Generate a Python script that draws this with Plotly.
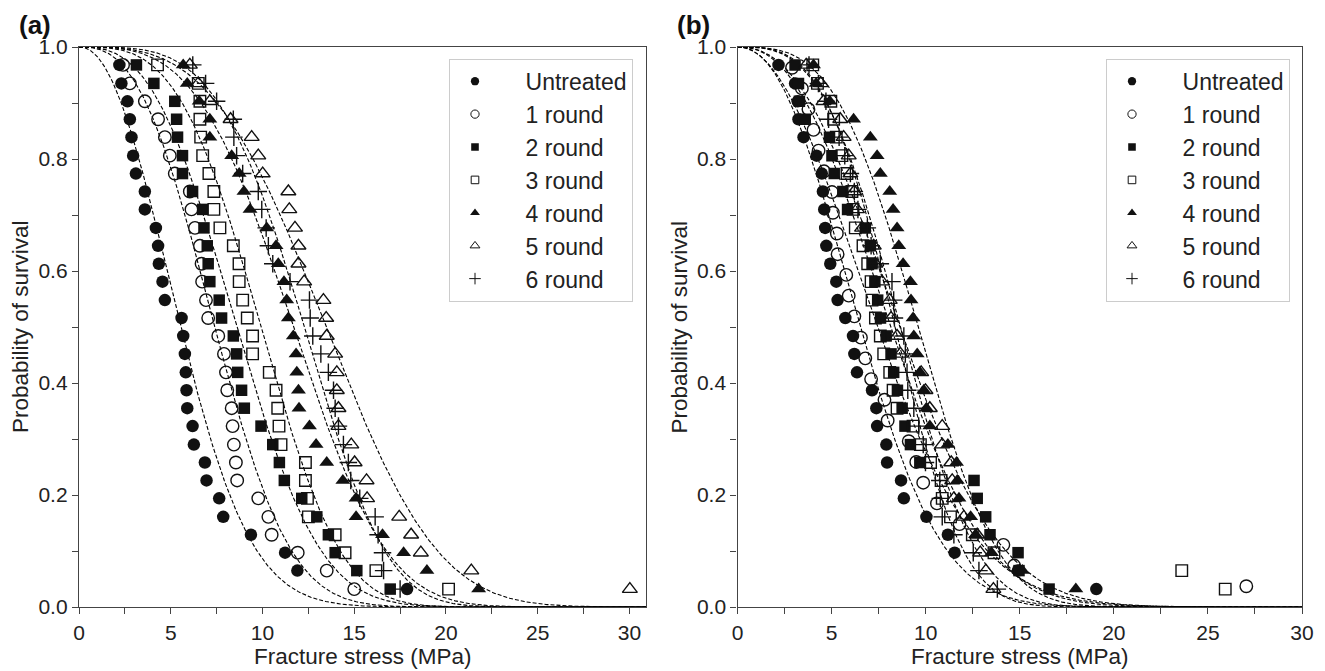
import numpy as np
import plotly.graph_objects as go

# survival probability ranks (n=30 and n=26 specimens)
survival_30 = [0.968, 0.935, 0.903, 0.871, 0.839, 0.806, 0.774, 0.742, 0.710, 0.677,
               0.645, 0.613, 0.581, 0.548, 0.516, 0.484, 0.452, 0.419, 0.387, 0.355,
               0.323, 0.290, 0.258, 0.226, 0.194, 0.161, 0.129, 0.097, 0.065, 0.032]
survival_26 = [0.963, 0.926, 0.889, 0.852, 0.815, 0.778, 0.741, 0.704, 0.667, 0.630,
               0.593, 0.556, 0.519, 0.481, 0.444, 0.407, 0.370, 0.333, 0.296, 0.259,
               0.222, 0.185, 0.148, 0.111, 0.074, 0.037]

series_names = ["Untreated", "1 round", "2 round", "3 round", "4 round", "5 round", "6 round"]

# panel (a): fracture stress (MPa)
untreated_a = [2.20, 2.31, 2.64, 2.77, 2.86, 2.95, 3.10, 3.59, 3.59, 4.19, 4.31, 4.35, 4.55, 4.68, 5.59,
               5.68, 5.77, 5.82, 5.86, 5.90, 6.19, 6.26, 6.86, 6.95, 7.64, 7.86, 9.37, 11.23, 11.90, 17.88]
round1_a = [2.40, 2.77, 3.59, 4.31, 4.68, 4.95, 5.22, 6.04, 6.13, 6.32, 6.59, 6.68, 6.71, 6.92, 7.04,
            7.59, 7.90, 8.01, 8.08, 8.32, 8.37, 8.44, 8.55, 8.62, 9.77, 10.32, 10.50, 11.92, 13.50, 15.00]
round2_a = [3.13, 4.08, 5.22, 5.32, 5.37, 5.64, 5.64, 6.19, 6.74, 6.81, 6.99, 7.04, 7.13, 7.64, 7.77,
            8.41, 8.59, 8.65, 8.86, 9.01, 9.92, 10.56, 10.92, 11.19, 12.14, 12.96, 13.59, 13.96, 15.14, 16.96]
round3_a = [4.28, 6.50, 6.59, 6.59, 6.63, 6.74, 7.08, 7.35, 7.35, 7.68, 8.41, 8.72, 8.73, 8.92, 9.17,
            9.46, 9.46, 10.37, 10.74, 10.83, 10.90, 11.01, 12.34, 12.34, 12.45, 12.50, 13.96, 14.50, 16.18, 20.14]
round4_a = [5.68, 5.90, 6.55, 7.13, 7.13, 8.32, 8.73, 8.99, 9.32, 10.23, 10.74, 10.86, 11.17, 11.32, 11.41,
            11.68, 11.83, 11.87, 11.96, 11.99, 12.56, 12.92, 13.50, 14.38, 15.10, 15.10, 16.54, 17.69, 18.96, 21.78]
round5_a = [6.04, 6.50, 7.13, 8.26, 9.41, 9.77, 10.01, 11.41, 11.46, 11.77, 11.96, 11.96, 12.27, 13.32, 13.47,
            13.50, 13.96, 14.05, 14.05, 14.14, 14.14, 14.84, 15.02, 15.67, 15.70, 17.45, 18.10, 18.63, 21.38, 30.02]
round6_a = [6.20, 6.90, 7.50, 8.41, 8.44, 8.59, 8.92, 9.77, 9.96, 10.20, 10.32, 10.56, 11.50, 12.56, 12.60,
            12.74, 13.18, 13.59, 13.87, 13.96, 14.14, 14.41, 14.68, 14.81, 15.30, 16.14, 16.30, 16.54, 16.60, 17.50]

# panel (b)
untreated_b = [2.18, 3.06, 3.20, 3.24, 3.51, 4.20, 4.48, 4.54, 4.61, 4.66, 4.72, 4.93, 5.25, 5.32, 5.73,
               6.14, 6.21, 6.35, 7.15, 7.38, 7.42, 7.91, 7.95, 8.69, 8.84, 10.04, 11.18, 11.54, 14.90, 19.07]
round1_b = [2.90, 3.42, 3.77, 4.04, 4.31, 4.60, 5.02, 5.07, 5.28, 5.32, 5.78, 5.91, 6.21,
            6.56, 6.79, 7.10, 7.81, 7.98, 9.10, 9.50, 9.87, 10.60, 11.80, 14.13, 14.70, 27.04]
round2_b = [3.06, 3.24, 3.29, 3.60, 4.89, 5.02, 5.14, 5.60, 5.85, 6.79, 7.06, 7.15, 7.30, 7.45, 7.60,
            7.90, 8.16, 8.30, 8.50, 8.75, 8.90, 9.19, 9.69, 12.57, 12.74, 13.19, 13.42, 14.91, 14.96, 16.56]
round3_b = [4.00, 4.25, 4.96, 5.11, 5.25, 5.55, 5.82, 6.08, 6.14, 6.26, 6.67, 6.92, 7.10, 7.15, 7.33,
            7.59, 7.77, 8.09, 8.27, 8.48, 9.33, 9.72, 10.26, 10.82, 10.88, 11.32, 12.48, 13.63, 23.61, 25.92]
round4_b = [4.04, 4.18, 4.90, 6.17, 7.06, 7.42, 7.59, 8.09, 8.27, 8.48, 8.57, 8.80, 9.19, 9.22, 9.33,
            9.37, 9.55, 9.69, 9.90, 10.04, 10.22, 11.18, 11.64, 11.68, 11.77, 12.39, 12.65, 13.50, 15.14, 17.98]
round5_b = [3.65, 4.43, 4.57, 5.46, 5.64, 5.91, 6.00, 6.20, 6.35, 6.62, 7.24, 7.33, 7.68, 8.09, 8.16,
            8.48, 8.66, 9.76, 9.99, 10.22, 10.88, 10.88, 11.36, 11.41, 11.50, 12.03, 12.74, 12.90, 13.20, 13.60]
round6_b = [3.80, 4.30, 4.70, 4.84, 5.40, 5.70, 6.00, 6.21, 6.40, 6.90, 7.10, 7.59, 8.21, 8.30, 8.34,
            8.84, 8.92, 9.01, 9.05, 9.37, 9.63, 9.87, 9.99, 10.75, 10.78, 10.88, 11.50, 12.53, 12.83, 13.81]

FONT = "Liberation Sans, Arial, Helvetica, sans-serif"
INK = "#111111"
FRAME = "#444444"
TEXT = "#222222"

# marker style per series: (symbol, size)
STYLES = [
    ("circle", 12.5),
    ("circle-open", 12.5),
    ("square", 11.5),
    ("square-open", 11.5),
    ("triangle-up", 13),
    ("triangle-up-open", 13),
    ("cross-thin-open", 12.5),
]


def weibull_fit(stress, prob):
    """Least squares on the Weibull plot: ln(-ln P) = m ln(x) - m ln(x0)."""
    lx = np.log(np.asarray(stress, dtype=float))
    ly = np.log(-np.log(np.asarray(prob, dtype=float)))
    m, c = np.polyfit(lx, ly, 1)
    return m, np.exp(-c / m)


panels = [
    ("x", "y", 30.9, [untreated_a, round1_a, round2_a, round3_a, round4_a, round5_a, round6_a],
     [survival_30] * 7, "legend"),
    ("x2", "y2", 30.0, [untreated_b, round1_b, round2_b, round3_b, round4_b, round5_b, round6_b],
     [survival_30, survival_26] + [survival_30] * 5, "legend2"),
]

fig = go.Figure()

for xref, yref, xmax, stresses, probs, leg in panels:
    # fitted Weibull curves underneath the points
    xs = np.linspace(0.001, xmax, 500)
    for stress, prob in zip(stresses, probs):
        m, x0 = weibull_fit(stress, prob)
        fig.add_trace(go.Scatter(
            x=xs, y=np.exp(-(xs / x0) ** m), mode="lines", xaxis=xref, yaxis=yref,
            line=dict(color="#000000", width=1.1, dash="4px,2px"),
            showlegend=False, hoverinfo="skip"))
    for name, stress, prob, (sym, size) in zip(series_names, stresses, probs, STYLES):
        fig.add_trace(go.Scatter(
            x=stress, y=prob, mode="markers", name=name, xaxis=xref, yaxis=yref,
            marker=dict(symbol=sym, size=size, color=INK,
                        line=dict(color=INK, width=1.4 if "open" in sym else 0)),
            showlegend=False))
    # small legend symbols, text pushed right with non-breaking spaces
    for name, (sym, size) in zip(series_names, STYLES):
        fig.add_trace(go.Scatter(
            x=[None], y=[None], mode="markers", name="\u00a0" * 4 + name, xaxis=xref, yaxis=yref,
            marker=dict(symbol=sym, size=size * 0.66, color=INK,
                        line=dict(color=INK, width=1 if "open" in sym else 0)),
            legend=leg, showlegend=True))

tickfont = dict(family=FONT, size=21, color=TEXT)


def xaxis(domain, rng, anchor):
    return dict(domain=domain, range=rng, anchor=anchor, showgrid=False, zeroline=False,
                automargin=False, showline=True, mirror=True, linecolor=FRAME, linewidth=1.3,
                ticks="outside", ticklen=6, tickwidth=1.2, tickcolor=FRAME, dtick=5, tick0=0,
                ticklabelstandoff=1,
                minor=dict(dtick=2.5, ticks="outside", ticklen=6, tickcolor=FRAME, tickwidth=1.2),
                tickfont=tickfont)


def yaxis(anchor):
    return dict(domain=[0, 1], range=[0, 1], anchor=anchor, showgrid=False, zeroline=False,
                automargin=False, showline=True, mirror=True, linecolor=FRAME, linewidth=1.3,
                ticks="outside", ticklen=6, tickwidth=1.2, tickcolor=FRAME, dtick=0.2, tick0=0,
                tickformat=".1f",
                minor=dict(dtick=0.1, ticks="outside", ticklen=6, tickcolor=FRAME, tickwidth=1.2),
                tickfont=tickfont)


legend_style = dict(font=dict(family=FONT, size=23, color=TEXT), bgcolor="white",
                    bordercolor="#cccccc", borderwidth=1, xanchor="right", yanchor="top",
                    y=0.979, itemwidth=40, tracegroupgap=0)

# the page body adds an 8px offset, so the figure is 8px smaller than the window.
# plot area on screen: left 79, right 1302, top 47, bottom 607
W, H = 1317, 663
ML, MR, MT, MB = 71, 23, 39, 64
PW = W - ML - MR


def px_to_paper(px):
    return (px - 79) / PW


xa_dom = [0, px_to_paper(646)]
xb_dom = [px_to_paper(737.5), 1]

title_font = dict(family=FONT, size=22.5, color=TEXT)
annotations = []
for dom in (xa_dom, xb_dom):
    annotations.append(dict(text="Fracture stress (MPa)", x=(dom[0] + dom[1]) / 2, y=-0.089,
                            xref="paper", yref="paper", xanchor="center", yanchor="middle",
                            showarrow=False, font=title_font))
    annotations.append(dict(text="Probability of survival", x=dom[0] - 59 / PW, y=0.5,
                            xref="paper", yref="paper", xanchor="center", yanchor="middle",
                            textangle=-90, showarrow=False, font=title_font))
for label, dom in (("(a)", xa_dom), ("(b)", xb_dom)):
    annotations.append(dict(text="<b>%s</b>" % label, x=dom[0] - 62 / PW, y=1.04,
                            xref="paper", yref="paper", xanchor="left", yanchor="middle",
                            showarrow=False, font=dict(family=FONT, size=26, color=INK)))

fig.update_layout(
    width=W, height=H,
    margin=dict(l=ML, r=MR, t=MT, b=MB),
    paper_bgcolor="white", plot_bgcolor="white",
    font=dict(family=FONT, color=TEXT),
    xaxis=xaxis(xa_dom, [0, 30.9], "y"),
    yaxis=yaxis("x"),
    xaxis2=xaxis(xb_dom, [0, 30], "y2"),
    yaxis2=yaxis("x2"),
    legend=dict(legend_style, x=px_to_paper(633)),
    legend2=dict(legend_style, x=px_to_paper(1290)),
    annotations=annotations,
)

fig.write_html("out.html")
